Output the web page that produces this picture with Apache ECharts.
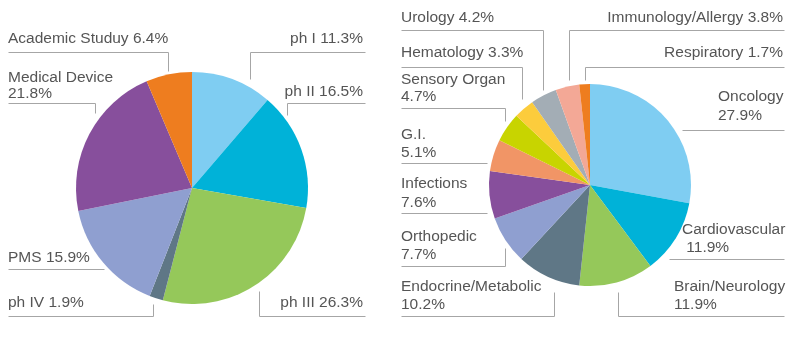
<!DOCTYPE html>
<html>
<head>
<meta charset="utf-8">
<script src="https://cdn.jsdelivr.net/npm/echarts@6/dist/echarts.min.js"></script>
<style>
  html, body { margin: 0; padding: 0; background: #fff; }
  #po { width: 792px; height: 352px; }
</style>
</head>
<body>
<div id="po"></div>
<script>
// phase pie (left)
var phaseNames = ['ph I', 'ph II', 'ph III', 'ph IV', 'PMS', 'Medical Device', 'Academic Studuy'];
var phaseValues = [11.3, 16.5, 26.3, 1.9, 15.9, 21.8, 6.4];
var phaseColors = ['#7fcdf2', '#00b2d8', '#95c85a', '#5f7786', '#8f9fd0', '#874f9c', '#ee7d1f'];

// area pie (right)
var areaNames = ['Oncology', 'Cardiovascular', 'Brain/Neurology', 'Endocrine/Metabolic', 'Orthopedic',
    'Infections', 'G.I.', 'Sensory Organ', 'Hematology', 'Urology', 'Immunology/Allergy', 'Respiratory'];
var areaValues = [27.9, 11.9, 11.9, 10.2, 7.7, 7.6, 5.1, 4.7, 3.3, 4.2, 3.8, 1.7];
var areaColors = ['#7fcdf2', '#00b2d8', '#95c85a', '#5f7786', '#8f9fd0', '#874f9c',
    '#f19566', '#c8d400', '#fccc3c', '#a3adb5', '#f3a896', '#ee7d1f'];

// label placement: x, baseline of first line, align, break line?, leader polyline
var phaseLabels = [
    {x: 363, y: 44, align: 'right', br: false, line: [[365, 52], [250, 52], [250, 79]]},
    {x: 363, y: 97, align: 'right', br: false, line: [[365, 103], [287, 103], [287, 115]]},
    {x: 363, y: 308, align: 'right', br: false, line: [[365, 316], [259, 316], [259, 291]]},
    {x: 8, y: 308, align: 'left', br: false, line: [[8, 316], [153, 316], [153, 304]]},
    {x: 8, y: 263, align: 'left', br: false, line: [[8, 269], [104, 269]]},
    {x: 8, y: 83, align: 'left', br: true, lh: 16, line: [[8, 103], [95, 103], [95, 113]]},
    {x: 8, y: 44, align: 'left', br: false, line: [[8, 52], [168, 52], [168, 71]]}
];
var areaLabels = [
    {x: 718, y: 102, align: 'left', br: true, lh: 19, line: [[784, 130], [682, 130]]},
    {x: 682, y: 235, align: 'left', br: true, lh: 18, pad: ' ', line: [[784, 259], [669, 259]]},
    {x: 674, y: 292, align: 'left', br: true, lh: 18, line: [[784, 316], [618, 316], [618, 292]]},
    {x: 401, y: 292, align: 'left', br: true, lh: 18, line: [[401, 316], [554, 316], [554, 292]]},
    {x: 401, y: 242, align: 'left', br: true, lh: 18, line: [[401, 266], [505, 266], [505, 248]]},
    {x: 401, y: 189, align: 'left', br: true, lh: 19, line: [[401, 213], [487, 213]]},
    {x: 401, y: 140, align: 'left', br: true, lh: 18, line: [[401, 163], [487, 163]]},
    {x: 401, y: 85, align: 'left', br: true, lh: 17, line: [[401, 108], [505, 108], [505, 121]]},
    {x: 401, y: 58, align: 'left', br: false, line: [[401, 67], [522, 67], [522, 99]]},
    {x: 401, y: 23, align: 'left', br: false, line: [[401, 30], [543, 30], [543, 90]]},
    {x: 783, y: 23, align: 'right', br: false, line: [[784, 30], [569, 30], [569, 80]]},
    {x: 783, y: 58, align: 'right', br: false, line: [[784, 67], [585, 67], [585, 80]]}
];

var textColor = '#555';
var lineColor = '#a6a6a6';
var fontSize = 15.5;

function buildData(names, values, colors) {
    return names.map(function (n, i) {
        return {name: n, value: values[i], itemStyle: {color: colors[i]}};
    });
}

function buildGraphics(names, values, layout) {
    var out = [];
    names.forEach(function (n, i) {
        var l = layout[i];
        var lh = l.lh || 18;
        var txt = l.br ? n + '\n' + (l.pad || '') + values[i] + '%' : n + ' ' + values[i] + '%';
        out.push({
            type: 'text',
            x: l.x,
            y: l.y - Math.round(lh / 2 + 5),
            style: {
                text: txt,
                fill: textColor,
                font: fontSize + 'px "Liberation Sans", Arial, sans-serif',
                lineHeight: lh,
                align: l.align,
                verticalAlign: 'top'
            },
            silent: true
        });
        out.push({
            type: 'polyline',
            shape: {points: l.line.map(function (p) { return [p[0] + 0.5, p[1] + 0.5]; })},
            style: {stroke: lineColor, lineWidth: 1, fill: null},
            silent: true
        });
    });
    return out;
}

var myChart = echarts.init(document.getElementById('po'), null, {renderer: 'canvas'});
var option = {
    backgroundColor: '#fff',
    animation: false,
    series: [{
        type: 'pie',
        center: [192, 188],
        radius: 116,
        startAngle: 90,
        clockwise: true,
        label: {show: false},
        labelLine: {show: false},
        itemStyle: {borderWidth: 0},
        emphasis: {disabled: true},
        data: buildData(phaseNames, phaseValues, phaseColors)
    }, {
        type: 'pie',
        center: [590, 185],
        radius: 101,
        startAngle: 90,
        clockwise: true,
        label: {show: false},
        labelLine: {show: false},
        itemStyle: {borderWidth: 0},
        emphasis: {disabled: true},
        data: buildData(areaNames, areaValues, areaColors)
    }],
    graphic: buildGraphics(phaseNames, phaseValues, phaseLabels)
        .concat(buildGraphics(areaNames, areaValues, areaLabels))
};
myChart.setOption(option);
</script>
</body>
</html>
